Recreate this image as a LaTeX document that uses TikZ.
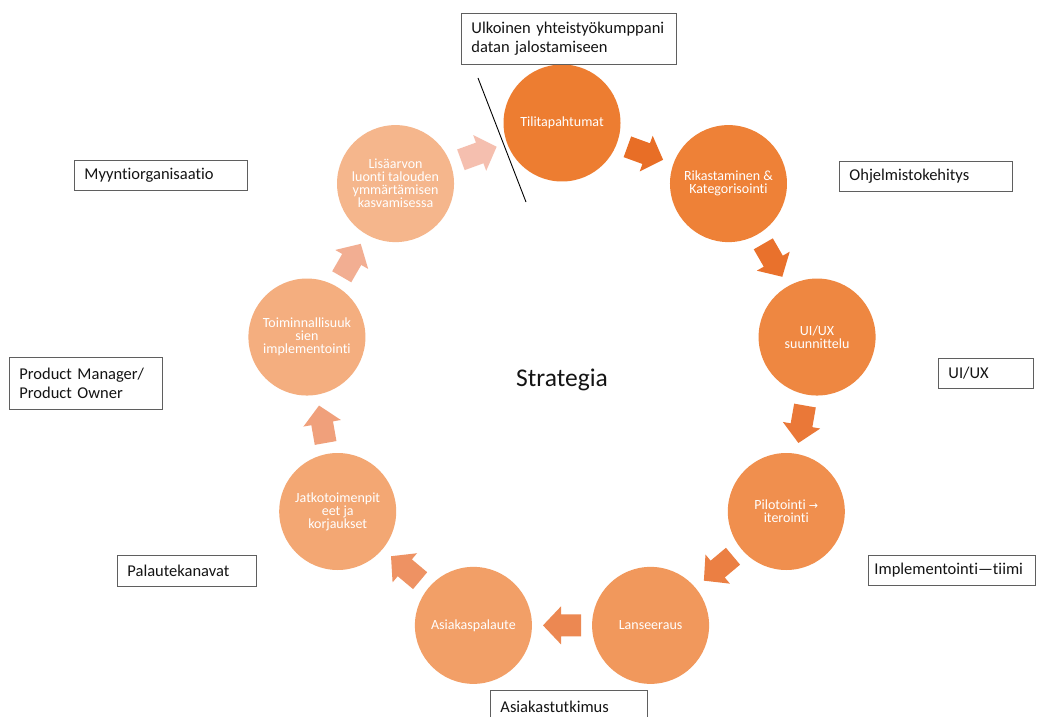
\documentclass[tikz,border=0pt]{standalone}
\usepackage{fontspec}
\setmainfont{Carlito}[Ligatures=NoCommon]
\newfontfamily\dejavu{DejaVu Sans}
\usetikzlibrary{calc}
\definecolor{orng}{RGB}{237,125,49}
\definecolor{arrdark}{RGB}{232,110,38}
\definecolor{arrlight}{RGB}{246,196,184}
\definecolor{boxgray}{RGB}{95,95,95}
\definecolor{txtdark}{RGB}{20,20,20}
\newcommand\blockarrow[4]{%
  \coordinate (#1#2m) at ($(#1)!0.5!(#2)$);
  \fill[#4, shift={(#1#2m)}, rotate=#3]
    (-19,-11) -- (1,-11) -- (1,-19) -- (19,0) -- (1,19) -- (1,11) -- (-19,11) -- cycle;}
\begin{document}
\begin{tikzpicture}[x=1pt,y=1pt,
  stage/.style={circle, minimum size=117pt, inner sep=0pt, text=white,
    font=\fontsize{14}{13}\selectfont, align=center},
  lbl/.style={draw=boxgray, line width=0.9pt, text=txtdark,
    font=\fontsize{16.5}{19}\selectfont, align=left, anchor=north west,
    inner xsep=10pt, inner ysep=0pt}]
\useasboundingbox (0,0) rectangle (1038,716);
\fill[white] (0,0) rectangle (1038,716);

\coordinate (o) at (562,334);
\node[stage, fill=orng!100!white] (c1) at ($(o)+(90:259)$) {Tilitapahtumat};
\node[stage, fill=orng!97!white] (c2) at ($(o)+(50:259)$) {Rikastaminen \&\\Kategorisointi};
\node[stage, fill=orng!92!white] (c3) at ($(o)+(10:259)$) {UI/UX\\suunnittelu};
\node[stage, fill=orng!86!white] (c4) at ($(o)+(-30:259)$) {Pilotointi {\dejavu\fontsize{11}{12}\selectfont →}\\iterointi};
\node[stage, fill=orng!79!white] (c5) at ($(o)+(-70:259)$) {Lanseeraus};
\node[stage, fill=orng!74!white] (c6) at ($(o)+(-110:259)$) {Asiakaspalaute};
\node[stage, fill=orng!68!white] (c7) at ($(o)+(-150:259)$) {Jatkotoimenpit\\eet ja\\korjaukset};
\node[stage, fill=orng!62!white] (c8) at ($(o)+(170:259)$) {Toiminnallisuuk\\sien\\implementointi};
\node[stage, fill=orng!56!white] (c9) at ($(o)+(130:259)$) {Lisäarvon\\luonti talouden\\ymmärtämisen\\kasvamisessa};

\blockarrow{c1}{c2}{-20}{arrdark!100!arrlight}
\blockarrow{c2}{c3}{-60}{arrdark!96!arrlight}
\blockarrow{c3}{c4}{-100}{arrdark!88!arrlight}
\blockarrow{c4}{c5}{-140}{arrdark!80!arrlight}
\blockarrow{c5}{c6}{-180}{arrdark!70!arrlight}
\blockarrow{c6}{c7}{-220}{arrdark!58!arrlight}
\blockarrow{c7}{c8}{-260}{arrdark!42!arrlight}
\blockarrow{c8}{c9}{-300}{arrdark!26!arrlight}
\blockarrow{c9}{c1}{-340}{arrdark!6!arrlight}

\node[text=txtdark, font=\fontsize{25.5}{30}\selectfont] (strat) at (562,336) {Strategia};

\coordinate (ls) at (478,638);
\coordinate (le) at (526,514);
\draw[black, line width=0.9pt] (ls) -- (le);

\node[lbl, minimum width=215pt, minimum height=51pt, text width=195pt] (l1) at (461,703) {Ulkoinen yhteistyökumppani\\datan jalostamiseen};
\node[lbl, minimum width=173pt, minimum height=30pt, text width=153pt] (l2) at (839,555) {Ohjelmistokehitys};
\node[lbl, minimum width=95pt, minimum height=30pt, text width=75pt] (l3) at (938,358) {UI/UX};
\node[lbl, minimum width=167pt, minimum height=30pt, text width=155pt, inner xsep=6pt] (l4) at (868,161) {\mbox{Implementointi—tiimi}};
\node[lbl, minimum width=157pt, minimum height=32pt, text width=137pt] (l5) at (490,26) {Asiakastutkimus};
\node[lbl, minimum width=139pt, minimum height=31pt, text width=119pt] (l6) at (117,161) {Palautekanavat};
\node[lbl, minimum width=153pt, minimum height=52pt, text width=133pt] (l7) at (9,359) {Product Manager/\\Product Owner};
\node[lbl, minimum width=173pt, minimum height=30pt, text width=153pt] (l8) at (74,556) {Myyntiorganisaatio};
\end{tikzpicture}
\end{document}
